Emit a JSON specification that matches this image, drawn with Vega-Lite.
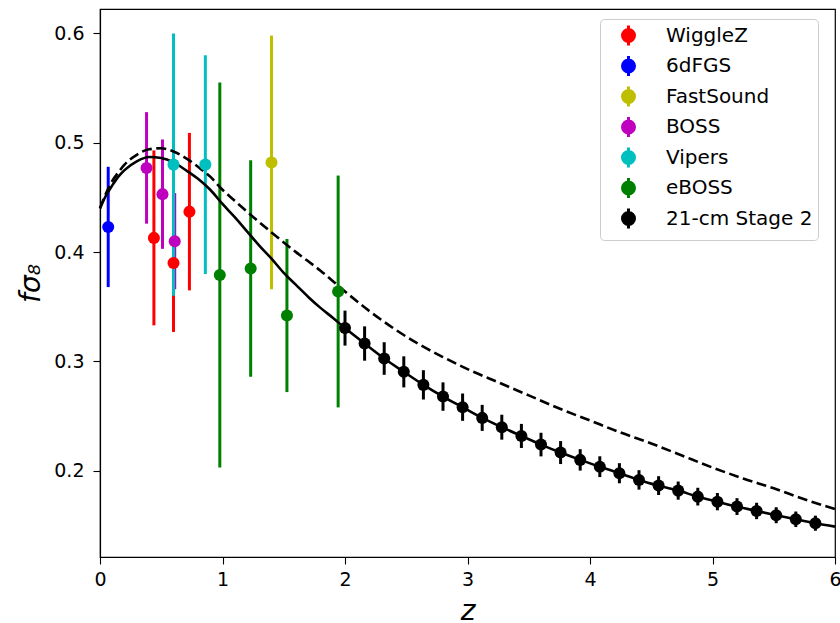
{
  "$schema": "https://vega.github.io/schema/vega-lite/v6.json",
  "width": 735,
  "height": 548,
  "autosize": {"type": "none"},
  "padding": {"left": 100, "top": 9, "right": 5, "bottom": 66},
  "background": "white",
  "datasets": {
    "obs": [
      {"survey": "WiggleZ", "z": 0.44, "f": 0.413, "err": 0.080},
      {"survey": "WiggleZ", "z": 0.60, "f": 0.390, "err": 0.063},
      {"survey": "WiggleZ", "z": 0.73, "f": 0.437, "err": 0.072},
      {"survey": "6dFGS", "z": 0.067, "f": 0.423, "err": 0.055},
      {"survey": "FastSound", "z": 1.40, "f": 0.482, "err": 0.116},
      {"survey": "BOSS", "z": 0.38, "f": 0.477, "err": 0.051},
      {"survey": "BOSS", "z": 0.51, "f": 0.453, "err": 0.050},
      {"survey": "BOSS", "z": 0.61, "f": 0.410, "err": 0.044},
      {"survey": "Vipers", "z": 0.60, "f": 0.480, "err": 0.120},
      {"survey": "Vipers", "z": 0.86, "f": 0.480, "err": 0.100},
      {"survey": "eBOSS", "z": 0.978, "f": 0.379, "err": 0.176},
      {"survey": "eBOSS", "z": 1.23, "f": 0.385, "err": 0.099},
      {"survey": "eBOSS", "z": 1.526, "f": 0.342, "err": 0.070},
      {"survey": "eBOSS", "z": 1.944, "f": 0.364, "err": 0.106},
      {"survey": "21-cm Stage 2", "z": 2.00, "f": 0.3305, "err": 0.0160},
      {"survey": "21-cm Stage 2", "z": 2.16, "f": 0.3164, "err": 0.0157},
      {"survey": "21-cm Stage 2", "z": 2.32, "f": 0.3027, "err": 0.0149},
      {"survey": "21-cm Stage 2", "z": 2.48, "f": 0.2905, "err": 0.0142},
      {"survey": "21-cm Stage 2", "z": 2.64, "f": 0.2786, "err": 0.0134},
      {"survey": "21-cm Stage 2", "z": 2.80, "f": 0.2679, "err": 0.0130},
      {"survey": "21-cm Stage 2", "z": 2.96, "f": 0.2582, "err": 0.0125},
      {"survey": "21-cm Stage 2", "z": 3.12, "f": 0.2484, "err": 0.0119},
      {"survey": "21-cm Stage 2", "z": 3.28, "f": 0.2399, "err": 0.0114},
      {"survey": "21-cm Stage 2", "z": 3.44, "f": 0.2319, "err": 0.0110},
      {"survey": "21-cm Stage 2", "z": 3.60, "f": 0.2240, "err": 0.0108},
      {"survey": "21-cm Stage 2", "z": 3.76, "f": 0.2167, "err": 0.0105},
      {"survey": "21-cm Stage 2", "z": 3.92, "f": 0.2100, "err": 0.0098},
      {"survey": "21-cm Stage 2", "z": 4.08, "f": 0.2038, "err": 0.0095},
      {"survey": "21-cm Stage 2", "z": 4.24, "f": 0.1978, "err": 0.0092},
      {"survey": "21-cm Stage 2", "z": 4.40, "f": 0.1917, "err": 0.0089},
      {"survey": "21-cm Stage 2", "z": 4.56, "f": 0.1865, "err": 0.0086},
      {"survey": "21-cm Stage 2", "z": 4.72, "f": 0.1819, "err": 0.0083},
      {"survey": "21-cm Stage 2", "z": 4.88, "f": 0.1764, "err": 0.0081},
      {"survey": "21-cm Stage 2", "z": 5.04, "f": 0.1718, "err": 0.0079},
      {"survey": "21-cm Stage 2", "z": 5.20, "f": 0.1673, "err": 0.0077},
      {"survey": "21-cm Stage 2", "z": 5.36, "f": 0.1633, "err": 0.0075},
      {"survey": "21-cm Stage 2", "z": 5.52, "f": 0.1594, "err": 0.0073},
      {"survey": "21-cm Stage 2", "z": 5.68, "f": 0.1557, "err": 0.0071},
      {"survey": "21-cm Stage 2", "z": 5.84, "f": 0.1521, "err": 0.0069}
    ],
    "solid": [
      {"z": 0.00, "f": 0.440}, {"z": 0.05, "f": 0.452}, {"z": 0.10, "f": 0.461},
      {"z": 0.15, "f": 0.469}, {"z": 0.20, "f": 0.475}, {"z": 0.30, "f": 0.483},
      {"z": 0.40, "f": 0.487}, {"z": 0.50, "f": 0.486}, {"z": 0.60, "f": 0.482},
      {"z": 0.70, "f": 0.475}, {"z": 0.80, "f": 0.467}, {"z": 0.90, "f": 0.457},
      {"z": 1.00, "f": 0.444}, {"z": 1.10, "f": 0.432}, {"z": 1.20, "f": 0.419},
      {"z": 1.30, "f": 0.406}, {"z": 1.40, "f": 0.394}, {"z": 1.50, "f": 0.381},
      {"z": 1.60, "f": 0.370}, {"z": 1.70, "f": 0.359}, {"z": 1.80, "f": 0.349},
      {"z": 1.90, "f": 0.340}, {"z": 2.00, "f": 0.3305}, {"z": 2.16, "f": 0.3164},
      {"z": 2.32, "f": 0.3027}, {"z": 2.48, "f": 0.2905}, {"z": 2.64, "f": 0.2786},
      {"z": 2.80, "f": 0.2679}, {"z": 2.96, "f": 0.2582}, {"z": 3.12, "f": 0.2484},
      {"z": 3.28, "f": 0.2399}, {"z": 3.44, "f": 0.2319}, {"z": 3.60, "f": 0.2240},
      {"z": 3.76, "f": 0.2167}, {"z": 3.92, "f": 0.2100}, {"z": 4.08, "f": 0.2038},
      {"z": 4.24, "f": 0.1978}, {"z": 4.40, "f": 0.1917}, {"z": 4.56, "f": 0.1865},
      {"z": 4.72, "f": 0.1819}, {"z": 4.88, "f": 0.1764}, {"z": 5.04, "f": 0.1718},
      {"z": 5.20, "f": 0.1673}, {"z": 5.36, "f": 0.1633}, {"z": 5.52, "f": 0.1594},
      {"z": 5.68, "f": 0.1557}, {"z": 5.84, "f": 0.1521}, {"z": 6.00, "f": 0.1490}
    ],
    "dashed": [
      {"z": 0.00, "f": 0.440}, {"z": 0.05, "f": 0.454}, {"z": 0.10, "f": 0.465},
      {"z": 0.15, "f": 0.473}, {"z": 0.20, "f": 0.480}, {"z": 0.30, "f": 0.489},
      {"z": 0.40, "f": 0.494}, {"z": 0.50, "f": 0.495}, {"z": 0.60, "f": 0.492},
      {"z": 0.70, "f": 0.486}, {"z": 0.80, "f": 0.478}, {"z": 0.90, "f": 0.469},
      {"z": 1.00, "f": 0.457}, {"z": 1.10, "f": 0.447}, {"z": 1.20, "f": 0.437},
      {"z": 1.40, "f": 0.418}, {"z": 1.60, "f": 0.400}, {"z": 1.80, "f": 0.383},
      {"z": 2.00, "f": 0.364}, {"z": 2.20, "f": 0.346}, {"z": 2.40, "f": 0.330},
      {"z": 2.60, "f": 0.316}, {"z": 2.80, "f": 0.304}, {"z": 3.00, "f": 0.293},
      {"z": 3.25, "f": 0.281}, {"z": 3.50, "f": 0.269}, {"z": 3.75, "f": 0.257},
      {"z": 4.00, "f": 0.246}, {"z": 4.25, "f": 0.235}, {"z": 4.50, "f": 0.225},
      {"z": 4.75, "f": 0.214}, {"z": 5.00, "f": 0.203}, {"z": 5.25, "f": 0.193},
      {"z": 5.50, "f": 0.184}, {"z": 5.75, "f": 0.174}, {"z": 6.00, "f": 0.165}
    ]
  },
  "encoding": {
    "x": {
      "field": "z", "type": "quantitative",
      "scale": {"domain": [0, 6], "nice": false, "zero": false},
      "axis": {"title": "z", "values": [0, 1, 2, 3, 4, 5, 6], "format": "d", "labelPadding": 6, "titlePadding": 8}
    },
    "y": {
      "field": "f", "type": "quantitative",
      "scale": {"domain": [0.1212, 0.6223], "nice": false, "zero": false},
      "axis": {"title": "fσ₈", "values": [0.2, 0.3, 0.4, 0.5, 0.6], "format": ".1f", "labelPadding": 9, "titlePadding": 8}
    }
  },
  "layer": [
    {
      "data": {"name": "obs"},
      "mark": {"type": "errorbar", "thickness": 3},
      "encoding": {
        "yError": {"field": "err"},
        "color": {"field": "survey", "type": "nominal",
          "scale": {"domain": ["WiggleZ", "6dFGS", "FastSound", "BOSS", "Vipers", "eBOSS", "21-cm Stage 2"],
                    "range": ["#ff0000", "#0000ff", "#bfbf00", "#bf00bf", "#00bfbf", "#008000", "#000000"]}}
      }
    },
    {
      "data": {"name": "solid"},
      "mark": {"type": "line", "color": "black", "strokeWidth": 2.6, "interpolate": "monotone"}
    },
    {
      "data": {"name": "dashed"},
      "mark": {"type": "line", "color": "black", "strokeWidth": 2.6, "strokeDash": [10, 4.5], "interpolate": "monotone"}
    },
    {
      "data": {"name": "obs"},
      "mark": {"type": "circle", "size": 145, "opacity": 1},
      "encoding": {
        "color": {"field": "survey", "type": "nominal",
          "scale": {"domain": ["WiggleZ", "6dFGS", "FastSound", "BOSS", "Vipers", "eBOSS", "21-cm Stage 2"],
                    "range": ["#ff0000", "#0000ff", "#bfbf00", "#bf00bf", "#00bfbf", "#008000", "#000000"]},
          "legend": {
            "title": null,
            "orient": "none",
            "legendX": 500,
            "legendY": 10,
            "padding": 5,
            "fillColor": "white",
            "strokeColor": "#cccccc",
            "cornerRadius": 4,
            "symbolType": "M0,-1L0,1M-0.6,0A0.6,0.6,0,1,1,0.6,0A0.6,0.6,0,1,1,-0.6,0Z",
            "symbolSize": 400,
            "symbolStrokeWidth": 3,
            "symbolOpacity": 1,
            "symbolOffset": 12,
            "labelOffset": 26,
            "labelFont": "DejaVu Sans",
            "labelFontSize": 20,
            "labelColor": "black",
            "rowPadding": -2.5,
            "encode": {
              "symbols": {"update": {"stroke": {"field": "value", "scale": "color"}, "strokeWidth": {"value": 3}, "fill": {"field": "value", "scale": "color"}, "opacity": {"value": 1}}}
            }
          }
        }
      }
    }
  ],
  "config": {
    "view": {"stroke": "black", "strokeWidth": 1.2},
    "axis": {
      "grid": false,
      "domainColor": "black",
      "domainWidth": 1.2,
      "tickColor": "black",
      "tickWidth": 1.1,
      "tickSize": 7,
      "labelFont": "DejaVu Sans",
      "labelFontSize": 19,
      "labelColor": "black",
      "titleFont": "DejaVu Sans",
      "titleFontSize": 28,
      "titleFontWeight": "normal",
      "titleFontStyle": "italic",
      "titleColor": "black",
      "labelFlush": false
    }
  }
}
